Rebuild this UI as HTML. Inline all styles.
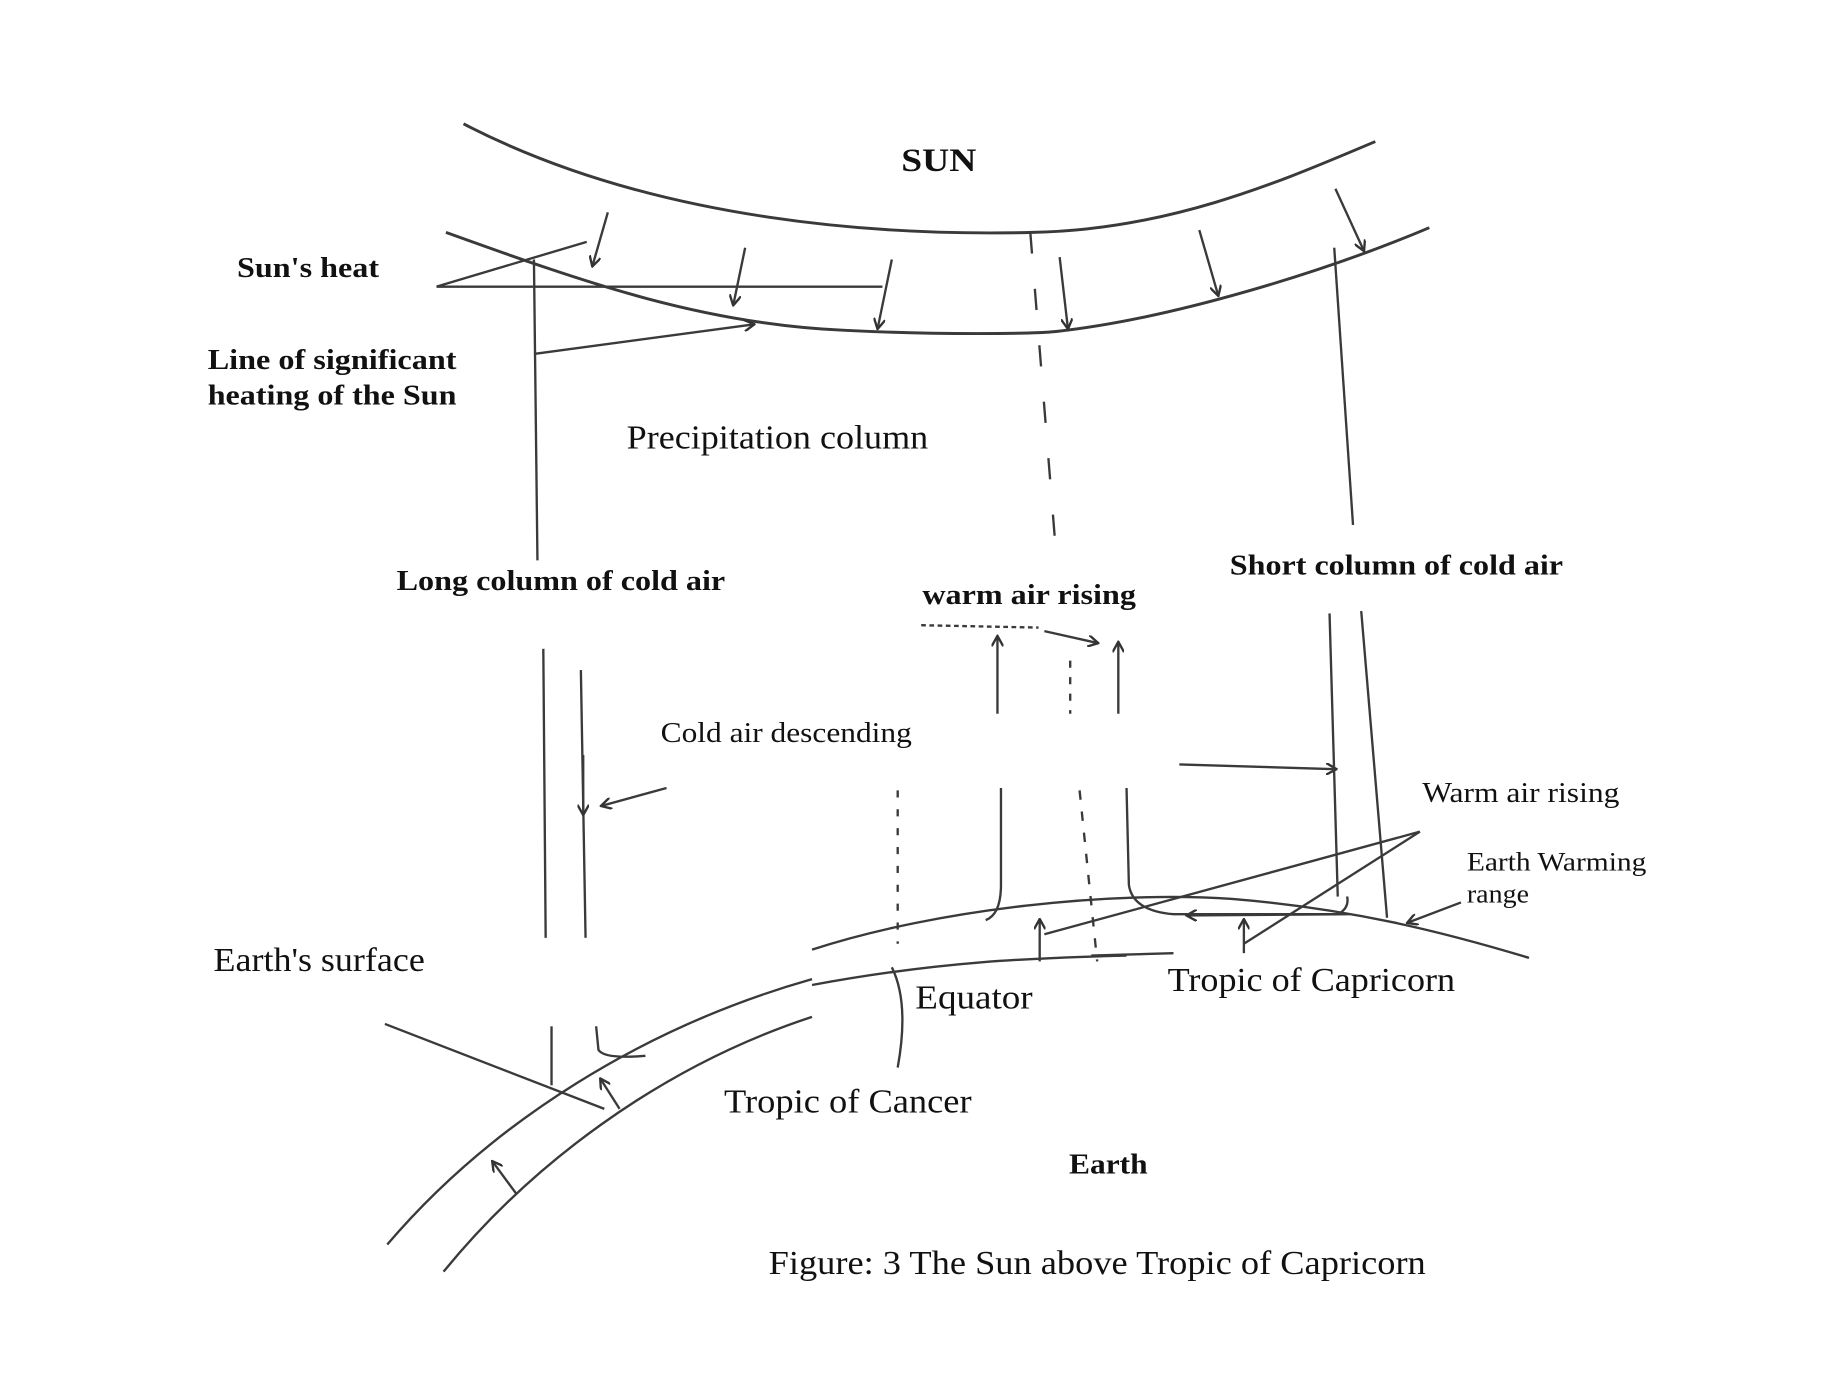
<!DOCTYPE html>
<html><head><style>
html,body{margin:0;padding:0;background:#fff;}
svg{display:block;}
text{font-family:"Liberation Serif",serif;fill:#111;}
.b{font-weight:bold;}
</style></head><body>
<svg width="1840" height="1392" viewBox="0 0 1568 1180" preserveAspectRatio="none" xmlns="http://www.w3.org/2000/svg">
<defs><marker id="a" markerWidth="10" markerHeight="10" refX="8" refY="5" orient="auto" markerUnits="userSpaceOnUse"><path d="M0,0 L9,5 L0,10" fill="none" stroke="#333" stroke-width="2"/></marker></defs>
<g fill="none" stroke="#3a3a3a" stroke-width="2.5">
<path d="M395,105 C560,190 760,200 880,197 C1000,195 1100,150 1172,120"/>
<path d="M380,197 C500,240 600,275 720,280 C800,284 880,283 900,281 C1000,270 1130,230 1218,193"/>
<path d="M878,197 L900,470" stroke-dasharray="18,30" stroke-width="2"/>
<g marker-end="url(#a)" stroke-width="2">
<line x1="518" y1="180" x2="505" y2="225"/>
<line x1="635" y1="210" x2="625" y2="258"/>
<line x1="760" y1="220" x2="748" y2="278"/>
<line x1="903" y1="218" x2="910" y2="278"/>
<line x1="1022" y1="195" x2="1038" y2="250"/>
<line x1="1138" y1="160" x2="1162" y2="212"/>
<line x1="455" y1="300" x2="642" y2="275"/>
<line x1="568" y1="668" x2="513" y2="683"/>
<line x1="850" y1="605" x2="850" y2="540"/>
<line x1="953" y1="605" x2="953" y2="545"/>
<line x1="890" y1="535" x2="935" y2="545"/>
<line x1="1005" y1="648" x2="1138" y2="652"/>
<line x1="1150" y1="775" x2="1012" y2="776"/>
<line x1="1245" y1="765" x2="1200" y2="782"/>
<line x1="886" y1="815" x2="886" y2="780"/>
<line x1="1060" y1="808" x2="1060" y2="780"/>
<line x1="440" y1="1012" x2="420" y2="985"/>
<line x1="528" y1="940" x2="512" y2="915"/>
</g>
<g stroke-width="2">
<line x1="372" y1="243" x2="752" y2="243"/>
<line x1="372" y1="243" x2="500" y2="205"/>
<line x1="455" y1="220" x2="458" y2="475"/>
<line x1="1137" y1="210" x2="1153" y2="445"/>
<line x1="463" y1="550" x2="465" y2="795"/>
<line x1="495" y1="568" x2="499" y2="795"/>
<line x1="497" y1="640" x2="497" y2="690" marker-end="url(#a)"/>
<line x1="785" y1="530" x2="885" y2="532" stroke-dasharray="4,3"/>
<line x1="912" y1="560" x2="912" y2="605" stroke-dasharray="6,8"/>
<line x1="1133" y1="520" x2="1140" y2="760"/>
<line x1="1160" y1="518" x2="1182" y2="778"/>
<path d="M853,668 L853,750 Q853,775 840,780"/>
<path d="M960,668 L962,750 Q965,772 1000,775 L1140,775 Q1150,770 1148,760"/>
<line x1="920" y1="670" x2="935" y2="815" stroke-dasharray="8,10"/>
<line x1="765" y1="670" x2="765" y2="800" stroke-dasharray="6,10"/>
<line x1="1210" y1="705" x2="890" y2="792"/>
<line x1="1210" y1="705" x2="1060" y2="800"/>
<path d="M692,805 C800,770 950,755 1050,762 C1150,770 1230,790 1303,812"/>
<path d="M692,835 C800,815 880,812 960,810"/>
<path d="M930,810 L1000,808"/>
<path d="M330,1055 C420,950 550,870 692,830"/>
<path d="M378,1078 C450,990 560,905 692,862"/>
<line x1="328" y1="868" x2="515" y2="940"/>
<path d="M760,820 Q775,850 765,905"/>
<line x1="470" y1="870" x2="470" y2="920"/>
<path d="M508,870 L510,890 Q515,898 550,895"/>
</g>
</g>
<g lengthAdjust="spacingAndGlyphs">
<text x="768" y="145" class="b" font-size="28" textLength="64" lengthAdjust="spacingAndGlyphs">SUN</text>
<text x="202" y="235" class="b" font-size="24" textLength="121" lengthAdjust="spacingAndGlyphs">Sun's heat</text>
<text x="177" y="313" class="b" font-size="24" textLength="212" lengthAdjust="spacingAndGlyphs">Line of significant</text>
<text x="177" y="343" class="b" font-size="24" textLength="212" lengthAdjust="spacingAndGlyphs">heating of the Sun</text>
<text x="534" y="380" font-size="29" textLength="257" lengthAdjust="spacingAndGlyphs">Precipitation column</text>
<text x="338" y="500" class="b" font-size="24" textLength="280" lengthAdjust="spacingAndGlyphs">Long column of cold air</text>
<text x="1048" y="487" class="b" font-size="24" textLength="284" lengthAdjust="spacingAndGlyphs">Short column of cold air</text>
<text x="786" y="512" class="b" font-size="24" textLength="182" lengthAdjust="spacingAndGlyphs">warm air rising</text>
<text x="563" y="629" font-size="24" textLength="214" lengthAdjust="spacingAndGlyphs">Cold air descending</text>
<text x="1212" y="680" font-size="24" textLength="168" lengthAdjust="spacingAndGlyphs">Warm air rising</text>
<text x="1250" y="738" font-size="22" textLength="153" lengthAdjust="spacingAndGlyphs">Earth  Warming</text>
<text x="1250" y="765" font-size="22" textLength="53" lengthAdjust="spacingAndGlyphs">range</text>
<text x="182" y="823" font-size="29" textLength="180" lengthAdjust="spacingAndGlyphs">Earth's surface</text>
<text x="780" y="855" font-size="29" textLength="100" lengthAdjust="spacingAndGlyphs">Equator</text>
<text x="995" y="840" font-size="29" textLength="245" lengthAdjust="spacingAndGlyphs">Tropic of Capricorn</text>
<text x="617" y="943" font-size="29" textLength="211" lengthAdjust="spacingAndGlyphs">Tropic of Cancer</text>
<text x="911" y="995" class="b" font-size="24" textLength="67" lengthAdjust="spacingAndGlyphs">Earth</text>
<text x="655" y="1080" font-size="29" textLength="560" lengthAdjust="spacingAndGlyphs">Figure: 3 The Sun above Tropic of Capricorn</text>
</g>
</svg>
</body></html>
